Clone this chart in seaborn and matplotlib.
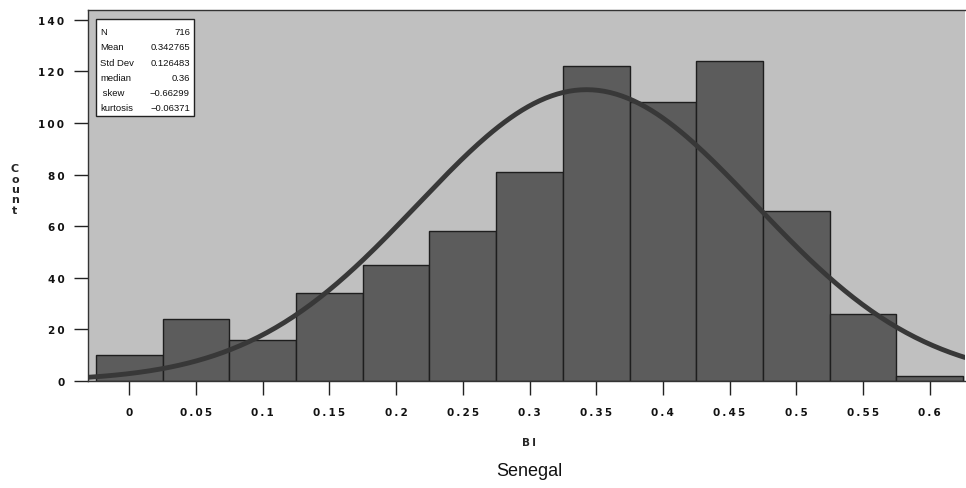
import numpy as np
import pandas as pd
import matplotlib
matplotlib.use("Agg")
import matplotlib.pyplot as plt
import seaborn as sns
from matplotlib.patches import Rectangle

# ---- data ----
bin_centers = [0.0, 0.05, 0.1, 0.15, 0.2, 0.25, 0.3, 0.35, 0.4, 0.45, 0.5, 0.55, 0.6]
bin_counts = [10, 24, 16, 34, 45, 58, 81, 122, 108, 124, 66, 26, 2]
bin_width = 0.05
stat_names = ["N", "Mean", "Std Dev", "median", " skew", "kurtosis"]
stat_values = ["716", "0.342765", "0.126483", "0.36", "\u22120.66299", "\u22120.06371"]
n_obs = 716
mean_bi = 0.342765
sd_bi = 0.126483
xtick_vals = [0, 0.05, 0.1, 0.15, 0.2, 0.25, 0.3, 0.35, 0.4, 0.45, 0.5, 0.55, 0.6]
xtick_labels = ["0", "0.05", "0.1", "0.15", "0.2", "0.25", "0.3", "0.35", "0.4", "0.45", "0.5", "0.55", "0.6"]
ytick_vals = [0, 20, 40, 60, 80, 100, 120, 140]
ytick_labels = ["0", "20", "40", "60", "80", "100", "120", "140"]

sns.set_style("white")
plt.rcParams["font.family"] = ["DejaVu Sans"]

W, H = 966, 489
fig = plt.figure(figsize=(W / 100, H / 100), dpi=100)
ax = fig.add_axes([88 / W, 1 - 382 / H, (965 - 88) / W, (382 - 11) / H])
ax.set_facecolor("#c0c0c0")

df = pd.DataFrame({"BI": bin_centers, "count": bin_counts})
edges = [round(c - bin_width / 2, 4) for c in bin_centers] + [round(bin_centers[-1] + bin_width / 2, 4)]
sns.histplot(data=df, x="BI", weights="count", bins=edges, ax=ax,
             color="#5c5c5c", edgecolor="#1e1e1e", linewidth=1.0, alpha=1.0)

xlim = (-0.031, 0.6265)
xs = np.linspace(xlim[0], xlim[1], 300)
fit = n_obs * bin_width * np.exp(-0.5 * ((xs - mean_bi) / sd_bi) ** 2) / (sd_bi * np.sqrt(2 * np.pi))
sns.lineplot(x=xs, y=fit, ax=ax, color="#383838", linewidth=3.5, solid_capstyle="round")

def spaced(s):
    return "\u2009".join(list(s))

ax.set_xlim(*xlim)
ax.set_ylim(0, 143.8)
ax.set_xticks(xtick_vals)
ax.set_xticklabels([spaced(t) for t in xtick_labels])
ax.set_yticks(ytick_vals)
ax.set_yticklabels([spaced(t) for t in ytick_labels])
ax.tick_params(axis="x", bottom=True, direction="out", length=10, width=1, pad=9, color="#222222")
ax.tick_params(axis="y", left=True, direction="out", length=10, width=1, pad=7, color="#222222")
for lab in ax.get_xticklabels() + ax.get_yticklabels():
    lab.set_fontfamily("DejaVu Sans")
    lab.set_fontweight("bold")
    lab.set_fontsize(7.5)
    lab.set_color("#111111")
ax.set_xlabel("")
ax.set_ylabel("")
for s in ["left", "bottom", "top"]:
    ax.spines[s].set_visible(True)
    ax.spines[s].set_color("#333333")
    ax.spines[s].set_linewidth(1.0)
ax.spines["right"].set_visible(False)

# stats box (pixel positions)
def fx(px):
    return px / W

def fy(py):
    return 1 - py / H

box = Rectangle((fx(96), fy(117)), (194 - 96) / W, (117 - 20) / H,
                transform=fig.transFigure, facecolor="white", edgecolor="#222222",
                linewidth=1.0, zorder=5)
fig.patches.append(box)
row_y = [32.7, 48.0, 63.2, 78.3, 93.3, 108.3]
for name, val, y in zip(stat_names, stat_values, row_y):
    fig.text(fx(100), fy(y), name, fontsize=6.8, family="Liberation Sans",
             ha="left", va="center", color="#111111", zorder=6)
    fig.text(fx(190), fy(y), val, fontsize=6.8, family="Liberation Sans",
             ha="right", va="center", color="#111111", zorder=6)

fig.text(fx(15), fy(190), "C\no\nu\nn\nt", fontsize=8, family="DejaVu Sans",
         fontweight="bold", ha="center", va="center", linespacing=1.05)
fig.text(fx(529), fy(443), "B\u2009I", fontsize=7.5, family="DejaVu Sans",
         fontweight="bold", ha="center", va="center")
fig.text(fx(529), fy(472), "Senegal", fontsize=13, family="Liberation Sans",
         ha="center", va="center", color="#111111")

fig.savefig("out.png", dpi=100, facecolor="white")
